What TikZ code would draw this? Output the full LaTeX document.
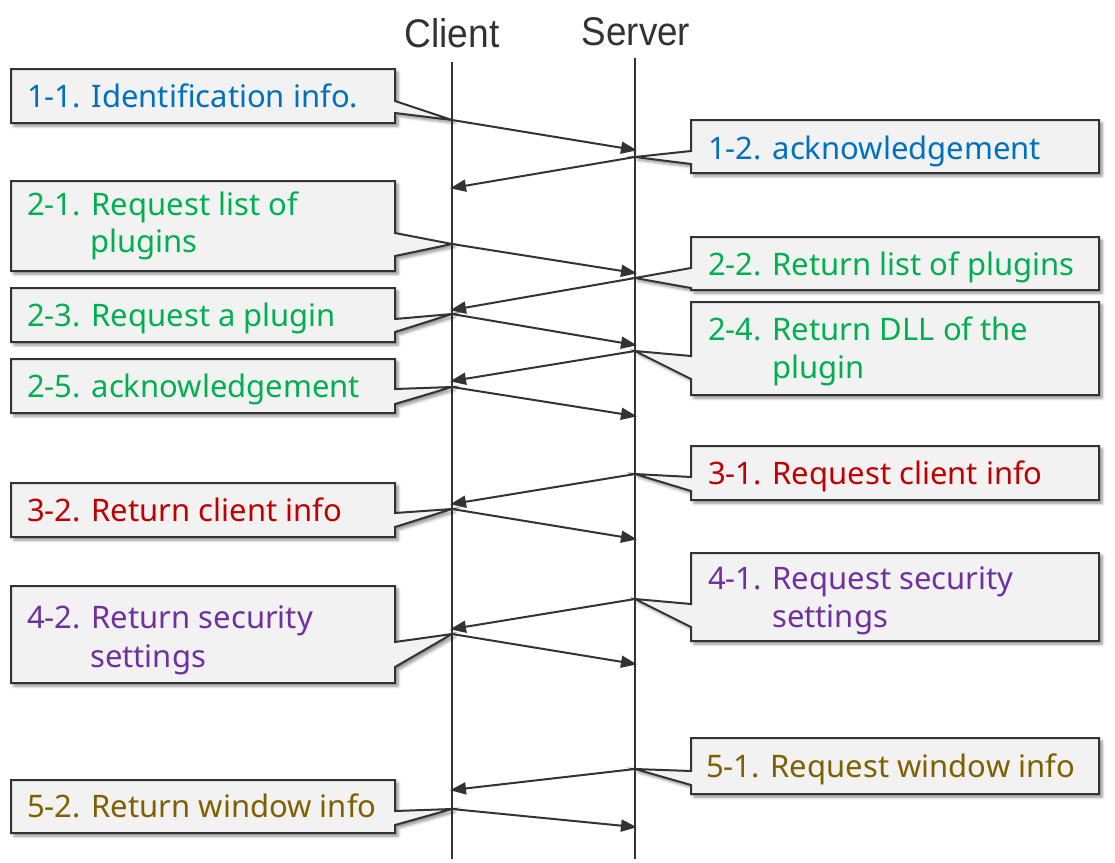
\documentclass[tikz,border=0pt]{standalone}
\usepackage{fontspec}
\usepackage{graphicx}
\setmainfont{Noto Sans}
\newfontfamily\headfont{Liberation Sans}
\usetikzlibrary{arrows.meta,shadows.blur}
\definecolor{cblue}{HTML}{0070C0}
\definecolor{cgreen}{HTML}{00B050}
\definecolor{cred}{HTML}{C00000}
\definecolor{cpurple}{HTML}{7030A0}
\definecolor{colive}{HTML}{7F6000}
\definecolor{boxfill}{HTML}{F2F2F2}
\definecolor{ink}{HTML}{333333}
\tikzset{
  callout/.style={fill=boxfill, draw=ink, line width=2pt, line join=miter,
    blur shadow={shadow xshift=3pt, shadow yshift=-3pt, shadow blur steps=6, shadow opacity=45, shadow blur radius=3pt}},
  life/.style={draw=ink, line width=1.8pt},
  msg/.style={draw=ink, line width=2pt, -{Triangle[length=16pt,width=12pt]}, shorten >=-2pt},
  lbl/.style={inner sep=0pt, anchor=base west, font=\fontsize{31}{38}\selectfont},
  head/.style={inner sep=0pt, anchor=base, text=ink, font=\headfont\fontsize{40}{44}\selectfont},
}
\newcommand{\LCall}[5]{%
  \path[callout] (11,#1) -- (395,#1) -- (395,#3) -- (#5) -- (395,#4) -- (395,#2) -- (11,#2) -- cycle;}
\newcommand{\RCall}[5]{%
  \path[callout] (1099,#1) -- (691,#1) -- (691,#3) -- (#5) -- (691,#4) -- (691,#2) -- (1099,#2) -- cycle;}
\begin{document}
\begin{tikzpicture}[x=1pt,y=-1pt]
\useasboundingbox (0,0) rectangle (1115,862);
% headers
\node[head] (client) at (452,47) {\scalebox{0.93}[1]{Client}};
\node[head] (server) at (636,45) {\scalebox{0.92}[1]{Server}};
% lifelines
\coordinate (ctop) at (452,62);
\coordinate (cbot) at (452,859);
\coordinate (stop) at (635,58);
\coordinate (sbot) at (635,859);
\path[life] (ctop) -- (cbot);
\path[life] (stop) -- (sbot);
% message points
\coordinate (c1) at (452,120); \coordinate (s1) at (635,150);
\coordinate (s2) at (635,157); \coordinate (c2) at (452,188);
\coordinate (c3) at (452,244); \coordinate (s3) at (635,273);
\coordinate (s4) at (635,278); \coordinate (c4) at (452,310);
\coordinate (c5) at (452,314); \coordinate (s5) at (635,345);
\coordinate (s6) at (635,351); \coordinate (c6) at (452,381);
\coordinate (c7) at (452,387); \coordinate (s7) at (635,416);
\coordinate (s8) at (635,474); \coordinate (c8) at (452,504);
\coordinate (c9) at (452,509); \coordinate (s9) at (635,539);
\coordinate (s10) at (635,599); \coordinate (c10) at (452,629);
\coordinate (c11) at (452,634); \coordinate (s11) at (635,664);
\coordinate (s12) at (635,769); \coordinate (c12) at (452,790);
\coordinate (c13) at (452,809); \coordinate (s13) at (635,827);
% callouts
\LCall{69}{123}{101}{113}{c1}
\RCall{120}{173}{151}{164}{s2}
\LCall{181}{271}{233}{256}{c3}
\RCall{237}{290}{268}{288}{s4}
\LCall{288}{342}{319}{332}{c5}
\RCall{302}{395}{356}{379}{s6}
\LCall{359}{413}{389}{404}{c7}
\RCall{446}{500}{477}{491}{s8}
\LCall{483}{537}{513}{527}{c9}
\RCall{553}{641}{604}{627}{s10}
\LCall{586}{683}{642}{667}{c11}
\RCall{738}{794}{771}{785}{s12}
\LCall{780}{833}{811}{825}{c13}
% texts
\node[lbl, text=cblue] (t11) at (27,107) {1-1. Identification info.};
\node[lbl, text=cblue] (t12) at (708,159) {1-2. acknowledgement};
\node[lbl, text=cgreen] (t21a) at (27,215) {2-1. Request list of};
\node[lbl, text=cgreen] (t21b) at (90,252) {plugins};
\node[lbl, text=cgreen] (t22) at (708,275) {2-2. Return list of plugins};
\node[lbl, text=cgreen] (t23) at (27,326) {2-3. Request a plugin};
\node[lbl, text=cgreen] (t24a) at (708,340) {2-4. Return DLL of the};
\node[lbl, text=cgreen] (t24b) at (772,378) {plugin};
\node[lbl, text=cgreen] (t25) at (27,397) {2-5. acknowledgement};
\node[lbl, text=cred] (t31) at (708,484) {3-1. Request client info};
\node[lbl, text=cred] (t32) at (27,521) {3-2. Return client info};
\node[lbl, text=cpurple] (t41a) at (708,589) {4-1. Request security};
\node[lbl, text=cpurple] (t41b) at (772,627) {settings};
\node[lbl, text=cpurple] (t42a) at (27,628) {4-2. Return security};
\node[lbl, text=cpurple] (t42b) at (90,667) {settings};
\node[lbl, text=colive] (t51) at (706,777) {5-1. Request window info};
\node[lbl, text=colive] (t52) at (27,817) {5-2. Return window info};
% messages
\path[msg] (c1) -- (s1);
\path[msg] (s2) -- (c2);
\path[msg] (c3) -- (s3);
\path[msg] (s4) -- (c4);
\path[msg] (c5) -- (s5);
\path[msg] (s6) -- (c6);
\path[msg] (c7) -- (s7);
\path[msg] (s8) -- (c8);
\path[msg] (c9) -- (s9);
\path[msg] (s10) -- (c10);
\path[msg] (c11) -- (s11);
\path[msg] (s12) -- (c12);
\path[msg] (c13) -- (s13);
\end{tikzpicture}
\end{document}
